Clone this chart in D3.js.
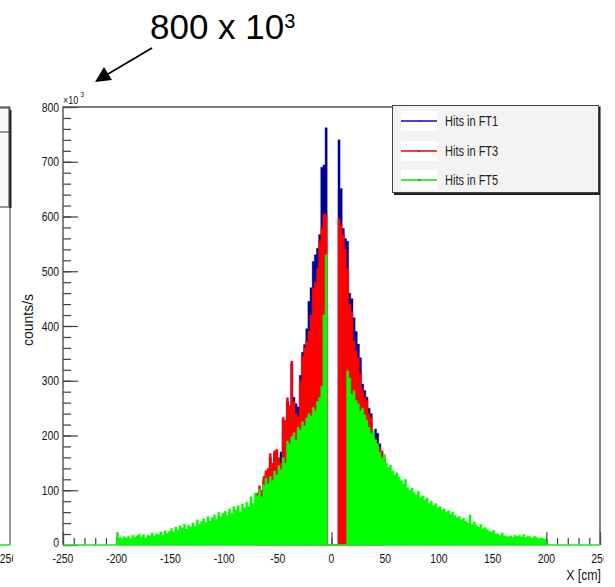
<!DOCTYPE html>
<html><head><meta charset="utf-8">
<script src="https://cdn.jsdelivr.net/npm/d3@7"></script>
<style>body{margin:0;background:#fff}svg{display:block;font-family:"Liberation Sans",Arial,sans-serif}</style>
</head><body><svg id="c" width="615" height="587"></svg>
<script>
// ---- data (counts/s in units of 10^3, bins of 2 cm) ----
const binWidth = 2;
const ft5Start = -200;
const ft5 = [
 22,14,12,15,13, 16,12,18,14,17, 20,15,19,13,18, 17,22,16,21,19, 24,18,26,21,25,
 30,24,33,27,35, 31,38,29,36,33, 40,34,46,38,43, 48,41,52,44,50, 55,47,60,52,58,
 62,54,66,58,70, 64,72,60,75,68, 78,70,88,76,95, 90,102,88,110,122, 112,125,118,135,128,
 145,138,160,150,190, 185,198,205,192,215, 210,225,218,232,240, 236,251,245,262,270,
 290,420, 530,
 0,0,0,0,0,0,0,0,0,
 318,305,276,282,264,258,245,250,238,228,
 215,204,210,192,185, 170,160,165,150,142, 146,135,128,132,124, 118,112,120,105,100,
 104,96,92,98,87, 90,82,86,76,80, 72,76,68,70,64, 66,60,63,56,60,
 54,50,52,46,49, 44,40,55,38,42, 36,33,38,30,32, 28,25,24,27,21,
 20,18,22,17,16, 15,17,14,18,16, 18,15,19,14,16, 15,13,16,14,12,
 13,12,11
];
const ft13Start = -70;
const ft3 = [
 95,108,100,125,136, 140,167,150,172,175, 160,150,233,228,269, 255,336,262,240,235,
 300,345,360,372,391, 420,469,480,505,555, 580,604,604,
 0,0,0,0,0,
 596,585,567,540,505,440,425,373,355,342,313,282,270,264,240,233,204,195,185,178,172,165
];
const ft1 = [
 90,100,95,118,130, 135,160,145,168,172, 150,170,228,224,262, 250,330,270,258,252,
 310,352,366,395,445, 470,518,530,542,567, 690,694,762,
 0,0,0,0,0,
 740,651,578,560,555,460,450,415,390,367,342,294,282,270,250,240,209,212,204,185,170,160
];
const seriesNames = ["Hits in FT1","Hits in FT3","Hits in FT5"];
const seriesColors = ["#000099","#ff0000","#00ff00"];
const legendColors = ["#4646d2","#ff3c3c","#3cec3c"];
const xMajor = [-250,-200,-150,-100,-50,0,50,100,150,200,250];
const yMajor = [0,100,200,300,400,500,600,700,800];
const xLabels = ["-250","-200","-150","-100","-50","0","50","100","150","200","250"];
const yLabels = ["0","100","200","300","400","500","600","700","800"];

// ---- layout ----
const svg = d3.select("#c");
const x = d3.scaleLinear().domain([-250,250]).range([63,600]);
const y = d3.scaleLinear().domain([0,800]).range([545,107]);
const frameColor = "#505050";

function ctext(g, px, py, str, size, anchor, sx, fill){
  return g.append("text").attr("transform",`translate(${px},${py}) scale(${sx},1)`)
    .attr("text-anchor",anchor).attr("font-size",size).attr("fill",fill||"#111").text(str);
}

// clip paths
const defs = svg.append("defs");
defs.append("clipPath").attr("id","pageclip").append("rect").attr("x",14).attr("y",0).attr("width",589.5).attr("height",587);
defs.append("clipPath").attr("id","leftclip").append("rect").attr("x",0).attr("y",0).attr("width",13.2).attr("height",587);

// ---- left (partial) panel ----
const lp = svg.append("g");
lp.append("line").attr("x1",10).attr("x2",10).attr("y1",107).attr("y2",545).attr("stroke",frameColor).attr("stroke-width",1.2);
lp.append("line").attr("x1",0).attr("x2",10).attr("y1",107).attr("y2",107).attr("stroke",frameColor).attr("stroke-width",1.2);
lp.append("rect").attr("x",-2).attr("y",108).attr("width",11).attr("height",99).attr("fill","#fafafa").attr("stroke","#333").attr("stroke-width",1);
lp.append("line").attr("x1",10.5).attr("x2",10.5).attr("y1",110).attr("y2",208).attr("stroke","#222").attr("stroke-width",2);
lp.append("line").attr("x1",0).attr("x2",9).attr("y1",132).attr("y2",132).attr("stroke","#333").attr("stroke-width",1);
lp.append("line").attr("x1",0).attr("x2",10).attr("y1",545).attr("y2",545).attr("stroke","#22dd22").attr("stroke-width",1.5);
ctext(lp.append("g").attr("clip-path","url(#leftclip)"), 8.5, 563, "250", 13, "middle", 0.8);

// ---- ticks (under histograms) ----
const xMinor = d3.range(-250,251,10);
const yMinor = d3.range(0,801,20);
const ax = svg.append("g");
ax.append("g").attr("transform",`translate(0,${y(0)})`).call(d3.axisBottom(x).tickValues(xMinor).tickSize(-7).tickFormat(""));
ax.append("g").attr("transform",`translate(0,${y(0)})`).call(d3.axisBottom(x).tickValues(xMajor).tickSize(-13).tickFormat(""));
ax.append("g").attr("transform",`translate(${x(-250)},0)`).call(d3.axisLeft(y).tickValues(yMinor).tickSize(-8).tickFormat(""));
ax.append("g").attr("transform",`translate(${x(-250)},0)`).call(d3.axisLeft(y).tickValues(yMajor).tickSize(-15).tickFormat(""));
ax.selectAll(".domain").remove();
ax.selectAll(".tick line").attr("stroke","#404040").attr("stroke-width",1.2);

// ---- histograms ----
function histPath(start, vals){
  const pts = vals.map((v,i)=>[start+i*binWidth, v]);
  pts.push([start+vals.length*binWidth, vals[vals.length-1]]);
  return d3.area().x(d=>x(d[0])).y0(y(0)).y1(d=>y(d[1])).curve(d3.curveStepAfter)(pts);
}
const hg = svg.append("g");
[[ft13Start,ft1],[ft13Start,ft3],[ft5Start,ft5]].forEach(([s,v],i)=>{
  hg.append("path").attr("d",histPath(s,v)).attr("fill",seriesColors[i]).attr("stroke",seriesColors[i]).attr("stroke-width",0.4);
});

// ---- frame ----
svg.append("path").attr("d",`M${x(-250)},${y(0)}V${y(800)}H${x(250)}V${y(0)}`).attr("fill","none").attr("stroke",frameColor).attr("stroke-width",1.4);
svg.append("line").attr("x1",x(-250)).attr("x2",x(250)).attr("y1",y(0)).attr("y2",y(0)).attr("stroke","#22e022").attr("stroke-width",1.6);

// ---- tick labels ----
const lab = svg.append("g").attr("clip-path","url(#pageclip)");
xMajor.forEach((v,i)=>ctext(lab, x(v), 563, xLabels[i], 13, "middle", 0.8));
yMajor.forEach((v,i)=>ctext(svg, 59, v===0 ? y(v)+1.5 : y(v)+4.5, yLabels[i], 13, "end", 0.8));
// exponent
ctext(svg, 63, 104, "×10", 10.5, "start", 0.85);
ctext(svg, 80.5, 97, "3", 7.5, "start", 0.85);
// axis titles
svg.append("text").attr("transform",`translate(33,320) rotate(-90)`).attr("text-anchor","middle").attr("font-size",14).attr("fill","#111").text("counts/s");
ctext(svg, 601, 580, "X [cm]", 14, "end", 0.88);

// ---- legend ----
const lg = svg.append("g");
lg.append("rect").attr("x",394).attr("y",107).attr("width",206).attr("height",88).attr("fill","#222");
lg.append("rect").attr("x",392.5).attr("y",105.5).attr("width",206).attr("height",87).attr("fill","#f3f3f3").attr("stroke","#444").attr("stroke-width",1);
const rowY = [121,151,180];
seriesNames.forEach((n,i)=>{
  lg.append("rect").attr("x",401).attr("y",rowY[i]-10).attr("width",36).attr("height",20).attr("fill","#fff");
  lg.append("line").attr("x1",401).attr("x2",437).attr("y1",rowY[i]).attr("y2",rowY[i]).attr("stroke",legendColors[i]).attr("stroke-width",2);
  lg.append("circle").attr("cx",419).attr("cy",rowY[i]).attr("r",0.8).attr("fill","#333");
  ctext(lg, 445, rowY[i]+5, n, 14.5, "start", 0.76, "#222");
});

// ---- annotation ----
const an = svg.append("text").attr("x",150).attr("y",39).attr("font-size",35).attr("fill","#000");
an.append("tspan").text("800 x 10");
an.append("tspan").attr("font-size",20).attr("dy",-11).text("3");
svg.append("line").attr("x1",152).attr("y1",48).attr("x2",108).attr("y2",74).attr("stroke","#000").attr("stroke-width",1.8);
svg.append("path").attr("d","M95,82 L104,67 L112,80 Z").attr("fill","#000");
</script></body></html>
